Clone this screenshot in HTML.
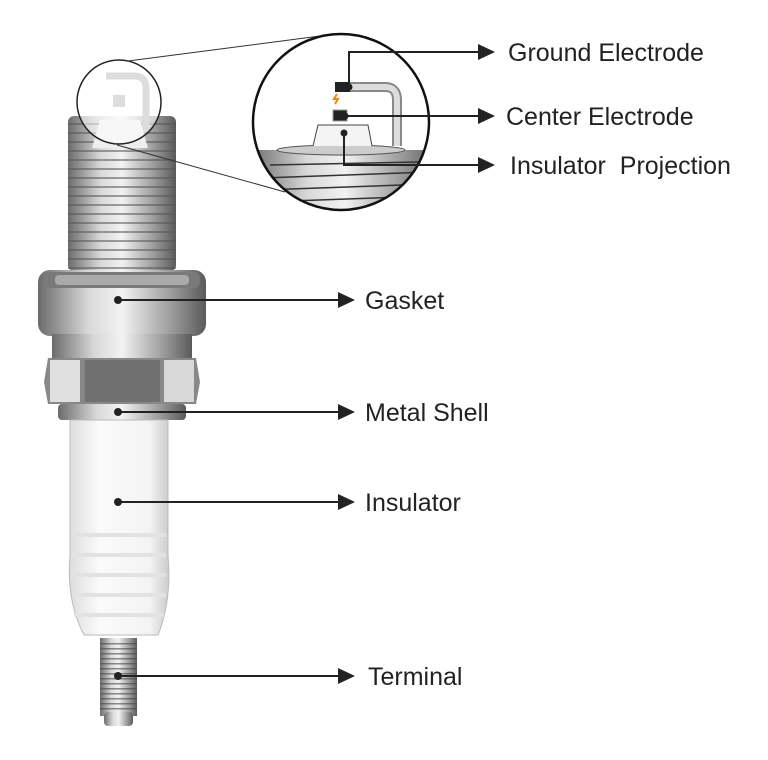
<!DOCTYPE html>
<html><head><style>body{margin:0;background:#fff}svg{display:block}text{font-family:"Liberation Sans",sans-serif;font-size:25px;fill:#222}</style></head><body>
<svg width="768" height="760" viewBox="0 0 768 760">
<defs>
<linearGradient id="m" x1="0" x2="1"><stop offset="0" stop-color="#6b6b6b"/><stop offset=".3" stop-color="#d8d8d8"/><stop offset=".5" stop-color="#f2f2f2"/><stop offset=".8" stop-color="#9a9a9a"/><stop offset="1" stop-color="#5a5a5a"/></linearGradient>
<linearGradient id="w" x1="0" x2="1"><stop offset="0" stop-color="#ddd"/><stop offset=".3" stop-color="#fafafa"/><stop offset=".8" stop-color="#f4f4f4"/><stop offset="1" stop-color="#ccc"/></linearGradient>
<pattern id="th" width="10" height="9" patternUnits="userSpaceOnUse"><rect width="10" height="9" fill="none"/><rect y="6" width="10" height="2" fill="#555" opacity=".55"/></pattern>
<pattern id="th2" width="10" height="5" patternUnits="userSpaceOnUse"><rect y="3" width="10" height="1.5" fill="#444" opacity=".6"/></pattern>
<clipPath id="bc"><circle cx="341" cy="122" r="88"/></clipPath>
</defs>
<rect x="68" y="116" width="108" height="155" rx="6" fill="url(#m)"/>
<rect x="68" y="116" width="108" height="155" fill="url(#th)"/>
<path d="M92 148 L100 120 L140 120 L148 148Z" fill="#eee"/>
<circle cx="119" cy="102" r="42" fill="rgba(255,255,255,.55)" stroke="#222" stroke-width="1.5"/>
<path d="M106 76h28q12 0 12 12v40" fill="none" stroke="#ddd" stroke-width="7"/>
<rect x="113" y="95" width="12" height="12" fill="#ddd"/>
<line x1="128" y1="61" x2="320" y2="36" stroke="#333" stroke-width="1"/>
<line x1="117" y1="145" x2="285" y2="192" stroke="#333" stroke-width="1"/>
<rect x="38" y="270" width="168" height="66" rx="12" fill="url(#m)"/>
<rect x="44" y="272" width="156" height="16" rx="6" fill="#7a7a7a"/>
<rect x="55" y="275" width="134" height="10" rx="4" fill="#aaa"/>
<rect x="52" y="334" width="140" height="24" fill="url(#m)"/>
<path d="M48 358 L196 358 L200 382 L196 404 L48 404 L44 382Z" fill="#888"/>
<rect x="50" y="360" width="30" height="42" fill="#e0e0e0"/>
<rect x="85" y="360" width="75" height="42" fill="#707070"/>
<rect x="164" y="360" width="30" height="42" fill="#d8d8d8"/>
<rect x="58" y="404" width="128" height="16" rx="4" fill="url(#m)"/>
<path d="M70 420 H168 V555 Q172 600 158 635 H84 Q66 600 70 555Z" fill="url(#w)" stroke="#bbb"/>
<g stroke="#e2e2e2" stroke-width="4"><line x1="72" y1="535" x2="166" y2="535"/><line x1="72" y1="555" x2="166" y2="555"/><line x1="72" y1="575" x2="166" y2="575"/><line x1="72" y1="595" x2="166" y2="595"/><line x1="74" y1="615" x2="164" y2="615"/></g>
<rect x="100" y="638" width="37" height="78" fill="url(#m)"/>
<rect x="100" y="640" width="37" height="72" fill="url(#th2)"/>
<rect x="104" y="712" width="29" height="14" rx="4" fill="url(#m)"/>
<circle cx="341" cy="122" r="88" fill="#fff"/>
<g clip-path="url(#bc)">
<rect x="250" y="150" width="190" height="70" fill="url(#m)"/>
<g stroke="#333" stroke-width="1.5" fill="none"><path d="M270 165 L420 162"/><path d="M262 178 L430 172"/><path d="M262 190 L430 184"/><path d="M262 202 L430 196"/><path d="M262 212 L430 208"/></g>
<ellipse cx="341" cy="150" rx="64" ry="5" fill="#ccc" stroke="#555"/>
</g>
<path d="M313 146 L318 125 L368 125 L372 146" fill="#f4f4f4" stroke="#444"/>
<path d="M338 87 H385 Q397 87 397 100 V146" fill="none" stroke="#888" stroke-width="10"/>
<path d="M338 87 H385 Q397 87 397 100 V146" fill="none" stroke="#ddd" stroke-width="6"/>
<rect x="335" y="82" width="15" height="10" fill="#222"/>
<rect x="333" y="110" width="14" height="11" fill="#222" stroke="#999"/>
<path d="M337 94 l-3 5 h4 l-3 5" fill="none" stroke="#f08a00" stroke-width="2"/>
<circle cx="341" cy="122" r="88" fill="none" stroke="#111" stroke-width="2.5"/>
<g stroke="#222" stroke-width="2" fill="none">
<path d="M349 87 V52 H480"/><path d="M345 116 H480"/><path d="M344 133 V165 H480"/>
<path d="M118 300 H340"/><path d="M118 412 H340"/><path d="M118 502 H340"/><path d="M118 676 H340"/>
</g>
<g fill="#222">
<circle cx="349" cy="87" r="3.5"/><circle cx="345" cy="116" r="3.5"/><circle cx="344" cy="133" r="3.5"/>
<circle cx="118" cy="300" r="4"/><circle cx="118" cy="412" r="4"/><circle cx="118" cy="502" r="4"/><circle cx="118" cy="676" r="4"/>
<path d="M478 44 L495 52 L478 60Z"/><path d="M478 108 L495 116 L478 124Z"/><path d="M478 157 L495 165 L478 173Z"/>
<path d="M338 292 L355 300 L338 308Z"/><path d="M338 404 L355 412 L338 420Z"/><path d="M338 494 L355 502 L338 510Z"/><path d="M338 668 L355 676 L338 684Z"/>
</g>
<text x="508" y="61">Ground Electrode</text>
<text x="506" y="125">Center Electrode</text>
<text x="510" y="174" xml:space="preserve">Insulator  Projection</text>
<text x="365" y="309">Gasket</text>
<text x="365" y="421">Metal Shell</text>
<text x="365" y="511">Insulator</text>
<text x="368" y="685">Terminal</text>
</svg>
</body></html>
